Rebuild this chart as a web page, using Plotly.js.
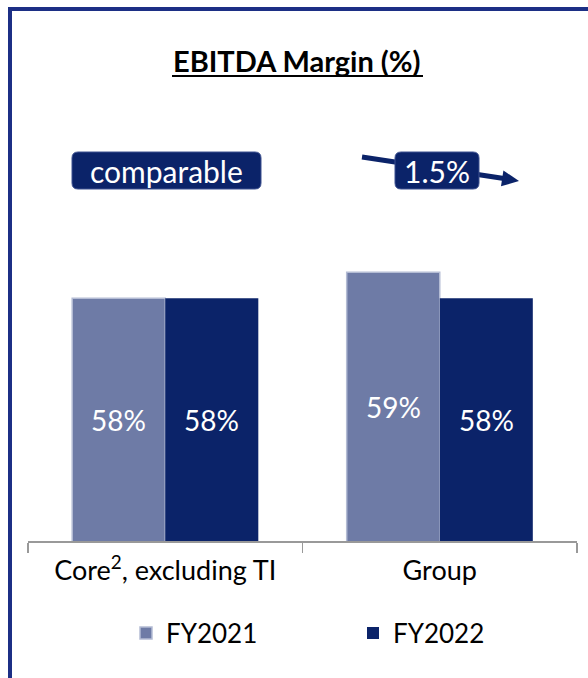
<!DOCTYPE html>
<html>
<head>
<meta charset="utf-8">
<script src="https://cdn.plot.ly/plotly-3.0.1.min.js"></script>
<style>
  html, body { margin: 0; padding: 0; background: #fff; }
  #plot { width: 588px; height: 678px; }
</style>
</head>
<body>
<div id="plot"></div>
<script>
(function (document, window) {

    // Data
    var categories = ['Core<sup>2</sup>, excluding TI', 'Group'];
    var fy2021 = [58.0, 59.5];
    var fy2022 = [58.0, 58.0];
    var fy2021Labels = ['58%', '59%'];
    var fy2022Labels = ['58%', '58%'];
    var seriesNames = ['FY2021', 'FY2022'];

    var navy = '#0b2369';
    var slate = '#6e7ba6';
    var font = 'Lato, "Open Sans", sans-serif';
    var yMin = 44, yMax = 62;

    // pixel -> paper helpers (plot area 28..577 x 229..541)
    var W = 588, H = 678, L = 28, R = 11, T = 229, B = 137;
    var pw = W - L - R, ph = H - T - B;
    function px(x) { return (x - L) / pw; }
    function py(y) { return (H - B - y) / ph; }

    function roundRect(x0, y0, x1, y1, r) {
        return 'M' + px(x0 + r) + ',' + py(y0) +
            ' L' + px(x1 - r) + ',' + py(y0) +
            ' Q' + px(x1) + ',' + py(y0) + ' ' + px(x1) + ',' + py(y0 + r) +
            ' L' + px(x1) + ',' + py(y1 - r) +
            ' Q' + px(x1) + ',' + py(y1) + ' ' + px(x1 - r) + ',' + py(y1) +
            ' L' + px(x0 + r) + ',' + py(y1) +
            ' Q' + px(x0) + ',' + py(y1) + ' ' + px(x0) + ',' + py(y1 - r) +
            ' L' + px(x0) + ',' + py(y0 + r) +
            ' Q' + px(x0) + ',' + py(y0) + ' ' + px(x0 + r) + ',' + py(y0) + ' Z';
    }

    var traces = [
        {
            type: 'bar', name: seriesNames[0], x: categories, y: fy2021,
            marker: { color: slate, line: { color: '#b4bcd4', width: 1.5 } },
            hoverinfo: 'none'
        },
        {
            type: 'bar', name: seriesNames[1], x: categories, y: fy2022,
            marker: { color: navy, line: { width: 0 } },
            hoverinfo: 'none'
        }
    ];

    var shapes = [
        // outer frame
        { type: 'rect', xref: 'paper', yref: 'paper', x0: px(10), x1: px(620), y0: py(9), y1: py(720),
          line: { color: '#1c2f85', width: 4 }, fillcolor: 'rgba(0,0,0,0)' },
        // title underline
        { type: 'line', xref: 'paper', yref: 'paper', x0: px(172), x1: px(423), y0: py(76), y1: py(76),
          line: { color: '#000', width: 2 } },
        // arrow shaft + head
        { type: 'line', xref: 'paper', yref: 'paper', x0: px(362), y0: py(157), x1: px(504), y1: py(178.5),
          line: { color: navy, width: 5 } },
        { type: 'path', xref: 'paper', yref: 'paper',
          path: 'M' + px(519) + ',' + py(181) + ' L' + px(503.4) + ',' + py(170.5) + ' L' + px(501) + ',' + py(186.3) + ' Z',
          fillcolor: navy, line: { width: 0 } },
        // callout boxes
        { type: 'path', xref: 'paper', yref: 'paper', path: roundRect(72, 152, 261, 189, 6),
          fillcolor: navy, line: { color: '#3d5190', width: 1 } },
        { type: 'path', xref: 'paper', yref: 'paper', path: roundRect(395, 152, 479, 189, 6),
          fillcolor: navy, line: { color: '#3d5190', width: 1 } }
    ];

    var annotations = [
        { xref: 'paper', yref: 'paper', x: px(297), y: py(61), text: '<b>EBITDA Margin (%)</b>',
          showarrow: false, xanchor: 'center', yanchor: 'middle',
          font: { family: font, size: 29, color: '#000' } },
        { xref: 'paper', yref: 'paper', x: px(166), y: py(171), text: 'comparable',
          showarrow: false, xanchor: 'center', yanchor: 'middle',
          font: { family: font, size: 30, color: '#fff' } },
        { xref: 'paper', yref: 'paper', x: px(437), y: py(171), text: '1.5%',
          showarrow: false, xanchor: 'center', yanchor: 'middle',
          font: { family: font, size: 30, color: '#fff' } }
    ];

    // value labels centred in the visible part of each bar
    var half = pw / 2 * (1 - 0.322) / 4;
    function addLabels(values, labels, shift) {
        values.forEach(function (v, i) {
            annotations.push({
                xref: 'x', yref: 'y', x: categories[i], y: (yMin + v) / 2, xshift: shift,
                text: labels[i], showarrow: false, xanchor: 'center', yanchor: 'middle',
                font: { family: font, size: 28, color: '#fff' }
            });
        });
    }
    addLabels(fy2021, fy2021Labels, -half);
    addLabels(fy2022, fy2022Labels, half);

    var layout = {
        width: W, height: H,
        margin: { l: L, r: R, t: T, b: B, autoexpand: false },
        paper_bgcolor: '#fff', plot_bgcolor: '#fff',
        barmode: 'group', bargap: 0.322, bargroupgap: 0,
        showlegend: true,
        legend: {
            orientation: 'h', xref: 'paper', yref: 'paper',
            x: px(126), y: py(633), xanchor: 'left', yanchor: 'middle',
            font: { family: font, size: 26, color: '#000' },
            entrywidth: 182, itemclick: false, itemdoubleclick: false
        },
        xaxis: {
            type: 'category', tickson: 'boundaries', ticks: 'outside', ticklen: 10,
            tickcolor: '#999', tickwidth: 1.5, showline: true, linecolor: '#999', linewidth: 1.5,
            showgrid: false, zeroline: false, ticklabelstandoff: 5,
            tickfont: { family: font, size: 27, color: '#000' }, fixedrange: true
        },
        yaxis: {
            range: [yMin, yMax], visible: false, showgrid: false, zeroline: false, fixedrange: true
        },
        shapes: shapes,
        annotations: annotations
    };

    Plotly.newPlot('plot', traces, layout, { displayModeBar: false, staticPlot: true });

})(document, window);
</script>
</body>
</html>
